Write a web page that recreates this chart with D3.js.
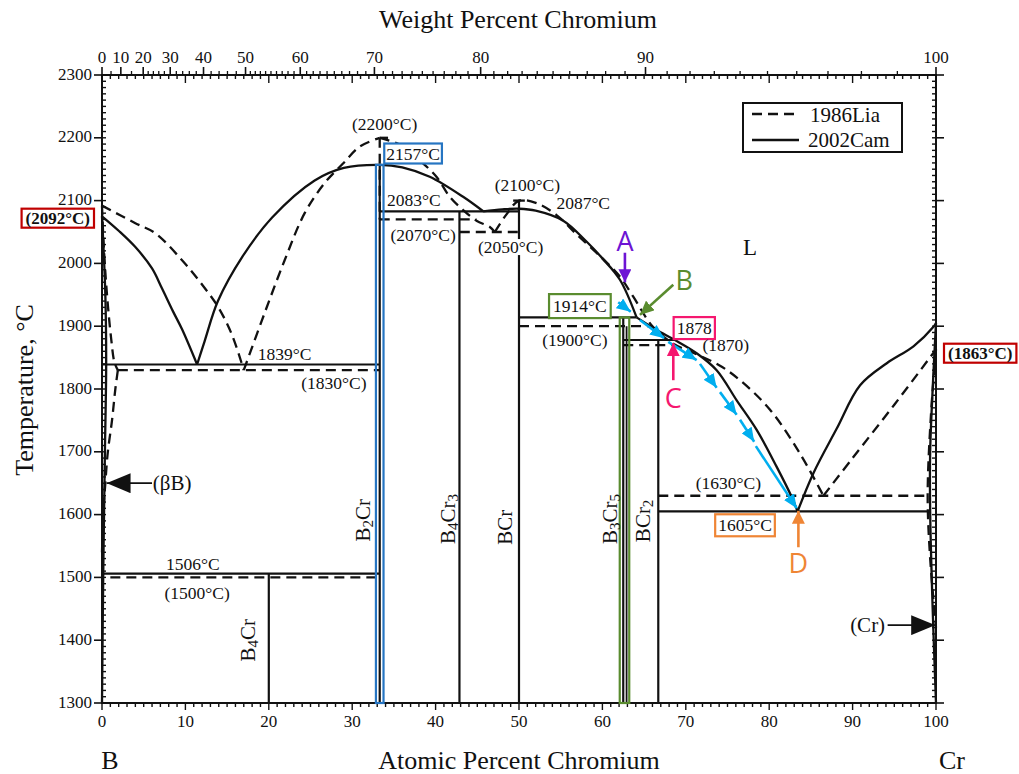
<!DOCTYPE html>
<html><head><meta charset="utf-8">
<script src="https://cdn.jsdelivr.net/npm/d3@7"></script>
<style>
body{margin:0;background:#fff}
svg{display:block}
text{font-family:"Liberation Serif","Times New Roman",serif;fill:#111}
.sans{font-family:"Open Sans","Noto Sans",sans-serif}
</style>
</head><body><svg id="chart" width="1019" height="774"></svg>
<script>
// ---- axis ticks ----
const tempTicks = [1300,1400,1500,1600,1700,1800,1900,2000,2100,2200,2300];
const atTicks = [0,10,20,30,40,50,60,70,80,90,100];
const wtTicks = [0,10,20,30,40,50,60,70,80,90,100];

// ---- 2002Cam (solid) boundaries: [at.% Cr, °C] ----
const camLiqB     = [[0,2075],[2,2052],[4,2026],[6,1992],[7.2,1960],[8.5,1924],[9.6,1895],[11.4,1839]];
const camLiqB2Cr  = [[11.4,1839],[12.3,1876],[13.9,1940],[16.8,2010],[20.4,2073],[25.5,2132],[29,2152],[33.3,2157],[36,2153],[39.3,2138],[43.3,2106],[45.7,2083]];
const camLiqBCr   = [[45.7,2083],[48,2086],[50,2087],[52,2084],[55.3,2068],[58,2036],[60,2008],[62.1,1974],[64.1,1914]];
const camLiqBCr2  = [[64.1,1914],[66.5,1894],[68.7,1878],[71.3,1857],[73.7,1830],[76.1,1782],[78.5,1735],[80.9,1676],[82.7,1628],[83.4,1605]];
const camLiqCr    = [[83.4,1605],[85.3,1666],[88.1,1737],[90.9,1806],[94.1,1841],[97.3,1868],[99.7,1899],[100,1905]];
const camSolvB    = [[0,2075],[0.4,1950],[0.5,1839],[0.35,1700],[0.15,1506],[0,1300]];
const camSolvCr   = [[100,1905],[99.6,1800],[99.3,1700],[99.3,1605],[99.6,1450],[100,1300]];

// ---- 1986Lia (dashed) boundaries ----
const liaLiqB     = [[0,2092],[4,2064],[6.4,2048],[9.6,2005],[11.9,1968],[13.9,1931],[15.5,1889],[16.7,1843],[17,1830]];
const liaLiqB2Cr  = [[17,1830],[19.5,1921],[21.9,2005],[24.3,2080],[26.7,2128],[28.9,2159],[30.9,2186],[33.3,2200]];
const liaLiqB2CrR = [[33.3,2200],[35.7,2189],[38,2165],[40.1,2138],[41.7,2106],[43.3,2085],[44.9,2068],[46.5,2058],[47.1,2050]];
const liaLiqBCr   = [[47.1,2050],[48.5,2078],[50,2100],[52.1,2096],[54.5,2077],[57,2045],[60,2008],[62.1,1979],[63.7,1947],[66,1900],[68.5,1872],[71,1857],[74,1838],[76.5,1814],[80.1,1767],[83.7,1697],[86.5,1630]];
const liaLiqCr    = [[86.5,1630],[90,1690],[95,1775],[100,1863]];
const liaSolvB    = [[0,2092],[0.2,2030],[0.6,1950],[1.1,1880],[1.5,1842],[1.9,1830]];
const liaSolvB2   = [[1.9,1830],[1.6,1800],[1.2,1750],[0.7,1700],[0.4,1650],[0.15,1600],[0,1540]];
const liaSolvCr   = [[100,1863],[99.4,1760],[99,1630],[99.3,1530],[100,1420]];

// ---- invariant isotherms ----
const camIsoT    = [1839, 1506, 2083, 1914, 1878, 1605];
const camIsoFrom = [0, 0, 33.3, 50, 62.5, 66.7];
const camIsoTo   = [33.3, 33.3, 50, 64.1, 68.7, 99.3];
const liaIsoT    = [1830, 1500, 2070, 2050, 1900, 1870, 1630];
const liaIsoFrom = [1.9, 1.0, 33.3, 42.9, 50, 62.5, 66.7];
const liaIsoTo   = [33.3, 32.9, 44.9, 50, 66, 68.5, 99];

// ---- intermediate compounds ----
const compoundNames = ["B4Cr","B2Cr","B4Cr3","BCr","B3Cr5","BCr2"];
const compoundAt    = [20, 33.3, 42.86, 50, 62.5, 66.7];
const compoundTop   = [1506, 2157, 2083, 2100, 1914, 1878];
const meltB = 2092, meltCr = 1863;
const liaMaxB2Cr = 2200, liaMaxBCr = 2100, camMaxBCr = 2087, liaPeritectic = 1870;

// ---- cooling path along the Cr-rich liquidus ----
const pathFrom = [[61.9,1938],[64.5,1910],[67.9,1875],[71.7,1840],[74.1,1795],[76.5,1751],[78.4,1709]];
const pathTo   = [[63.4,1923],[67.4,1881],[71.3,1846],[73.7,1802],[76.1,1759],[78.2,1716],[83.3,1610]];

const svg = d3.select("#chart");
const X = d3.scaleLinear().domain([0,100]).range([102,936]);
const Y = d3.scaleLinear().domain([1300,2300]).range([703,75]);
const curve = d3.line().x(d=>X(d[0])).y(d=>Y(d[1])).curve(d3.curveCatmullRom.alpha(0.5));
const wtToAt = w => w<=0 ? 0 : w>=100 ? 100 : (w/52.00)/((w/52.00)+(100-w)/10.81)*100;
const INK = "#111";

// arrow markers
const defs = svg.append("defs");
function marker(id, color, len, wid){
  defs.append("marker").attr("id",id).attr("markerUnits","userSpaceOnUse")
    .attr("viewBox",`0 0 ${len} ${wid}`).attr("refX",len).attr("refY",wid/2)
    .attr("markerWidth",len).attr("markerHeight",wid).attr("orient","auto")
    .append("path").attr("d",`M0,0L${len},${wid/2}L0,${wid}Z`).attr("fill",color);
}
const colA="#6d14d4", colB="#5a8c2f", colC="#f5176f", colD="#ef8535", colPath="#00aeef",
      colBlue="#2675c2", colRed="#c00000";
marker("mA",colA,13,13); marker("mB",colB,14,13); marker("mC",colC,13,13); marker("mD",colD,13,13);
marker("mP",colPath,14,12); marker("mK",INK,24,20);

// ---- frame and ticks ----
const ax = svg.append("g").attr("stroke",INK).attr("fill","none");
const x0=X(0), x1=X(100), yb=Y(1300), yt=Y(2300);
ax.append("rect").attr("x",x0).attr("y",yt).attr("width",x1-x0).attr("height",yb-yt).attr("stroke-width",2);
d3.range(1300,2301,10).forEach(t=>{
  const major = t%100===0;
  ax.append("line").attr("x1",x0).attr("x2",x0+4).attr("y1",Y(t)).attr("y2",Y(t)).attr("stroke-width",1.4);
  ax.append("line").attr("x1",x1-4).attr("x2",x1).attr("y1",Y(t)).attr("y2",Y(t)).attr("stroke-width",1.4);
  if(major){
    ax.append("line").attr("x1",x0-8).attr("x2",x0).attr("y1",Y(t)).attr("y2",Y(t)).attr("stroke-width",1.6);
    ax.append("line").attr("x1",x1).attr("x2",x1+8).attr("y1",Y(t)).attr("y2",Y(t)).attr("stroke-width",1.6);
  }
});
d3.range(0,101,1).forEach(a=>{
  const major = a%10===0;
  ax.append("line").attr("x1",X(a)).attr("x2",X(a)).attr("y1",yb).attr("y2",yb+(major?7:4)).attr("stroke-width",1.4);
  ax.append("line").attr("x1",X(a)).attr("x2",X(a)).attr("y1",yt).attr("y2",yt+(major?8:4)).attr("stroke-width",1.4);
});
d3.range(1,100).filter(w=>w%10!==0 && (w<20 ? w%5===0 : w<50 ? w%2===0 : true)).forEach(w=>{
  ax.append("line").attr("x1",X(wtToAt(w))).attr("x2",X(wtToAt(w))).attr("y1",yt-4).attr("y2",yt).attr("stroke-width",1.3);
});
wtTicks.forEach(w=>{
  ax.append("line").attr("x1",X(wtToAt(w))).attr("x2",X(wtToAt(w))).attr("y1",yt-8).attr("y2",yt).attr("stroke-width",1.6);
});

const lab = svg.append("g");
tempTicks.forEach(t=>lab.append("text").attr("x",x0-10).attr("y",Y(t)-1).attr("text-anchor","end")
  .attr("dominant-baseline","central").attr("font-size",17).text(t));
atTicks.forEach(a=>lab.append("text").attr("x",X(a)).attr("y",yb+18).attr("text-anchor","middle")
  .attr("dominant-baseline","central").attr("font-size",17).text(a));
wtTicks.forEach(w=>lab.append("text").attr("x",X(wtToAt(w))).attr("y",yt-18).attr("text-anchor","middle")
  .attr("dominant-baseline","central").attr("font-size",17).text(w));

lab.append("text").attr("x",518).attr("y",19).attr("text-anchor","middle").attr("dominant-baseline","central")
  .attr("font-size",26).text("Weight Percent Chromium");
lab.append("text").attr("x",519).attr("y",760).attr("text-anchor","middle").attr("dominant-baseline","central")
  .attr("font-size",26).text("Atomic Percent Chromium");
lab.append("text").attr("x",110).attr("y",760).attr("text-anchor","middle").attr("dominant-baseline","central")
  .attr("font-size",26).text("B");
lab.append("text").attr("x",952).attr("y",760).attr("text-anchor","middle").attr("dominant-baseline","central")
  .attr("font-size",26).text("Cr");
lab.append("text").attr("transform","translate(24,390) rotate(-90)").attr("text-anchor","middle")
  .attr("dominant-baseline","central").attr("font-size",26).text("Temperature, °C");

// ---- phase boundaries ----
const pg = svg.append("g").attr("fill","none").attr("stroke",INK);
[camLiqB,camLiqB2Cr,camLiqBCr,camLiqBCr2,camLiqCr,camSolvB,camSolvCr].forEach(p=>
  pg.append("path").attr("d",curve(p)).attr("stroke-width",2.3));
[liaLiqB,liaLiqB2Cr,liaLiqB2CrR,liaLiqBCr,liaLiqCr,liaSolvB,liaSolvB2,liaSolvCr].forEach(p=>
  pg.append("path").attr("d",curve(p)).attr("stroke-width",2.3).attr("stroke-dasharray","10,6"));
camIsoT.forEach((t,i)=>pg.append("line").attr("x1",X(camIsoFrom[i])).attr("x2",X(camIsoTo[i]))
  .attr("y1",Y(t)).attr("y2",Y(t)).attr("stroke-width",2.2));
liaIsoT.forEach((t,i)=>pg.append("line").attr("x1",X(liaIsoFrom[i])).attr("x2",X(liaIsoTo[i]))
  .attr("y1",Y(t)).attr("y2",Y(t)).attr("stroke-width",2.3).attr("stroke-dasharray","10,6"));
compoundAt.forEach((a,i)=>pg.append("line").attr("x1",X(a)).attr("x2",X(a))
  .attr("y1",Y(compoundTop[i])).attr("y2",yb).attr("stroke-width",2.2));
// 1986Lia B3Cr5 and the congruent maxima
pg.append("line").attr("x1",X(62.9)).attr("x2",X(62.9)).attr("y1",Y(1900)).attr("y2",yb).attr("stroke-width",1.8);
pg.append("line").attr("x1",X(33.3)).attr("x2",X(33.3)).attr("y1",Y(liaMaxB2Cr)).attr("y2",Y(2070))
  .attr("stroke-width",2.3).attr("stroke-dasharray","10,6");
pg.append("line").attr("x1",X(33.3)).attr("x2",X(34.3)).attr("y1",Y(liaMaxB2Cr)).attr("y2",Y(liaMaxB2Cr)).attr("stroke-width",2.3);
pg.append("line").attr("x1",X(49.3)).attr("x2",X(50.7)).attr("y1",Y(liaMaxBCr)).attr("y2",Y(liaMaxBCr)).attr("stroke-width",2.3);

// ---- highlight boxes ----
const hb = svg.append("g").attr("fill","none").attr("stroke-width",2.2);
hb.append("rect").attr("x",X(33.3)-3.8).attr("y",Y(2157)).attr("width",7.6).attr("height",yb-Y(2157)).attr("stroke",colBlue);
hb.append("rect").attr("x",X(62.5)-3.5).attr("y",Y(1914)).attr("width",9.5).attr("height",yb-Y(1914)).attr("stroke",colB);

// ---- text annotations ----
const ann = svg.append("g");
function note(str, a, t, opt={}){
  const g = ann.append("g");
  const tx = g.append("text").attr("x",X(a)).attr("y",Y(t)).attr("text-anchor","middle")
    .attr("dominant-baseline","central").attr("font-size",opt.size||17.5)
    .attr("font-weight",opt.bold?"bold":null).text(str);
  if(opt.box || opt.bg){
    const b = tx.node().getBBox(), px = opt.padX ?? 3, py = opt.padY ?? 1;
    g.insert("rect","text").attr("x",b.x-px).attr("y",b.y-py).attr("width",b.width+2*px).attr("height",b.height+2*py)
      .attr("fill","#fff").attr("stroke",opt.box||"none").attr("stroke-width",2.2);
  }
  return tx;
}
note(`${camIsoT[0]}°C`, 21.9, 1856);
note(`(${liaIsoT[0]}°C)`, 27.8, 1810);
note(`${camIsoT[1]}°C`, 10.9, 1522);
note(`(${liaIsoT[1]}°C)`, 11.4, 1475);
note(`(${liaMaxB2Cr}°C)`, 33.9, 2222);
note(`${compoundTop[1]}°C`, 37.3, 2175, {box:colBlue, padX:2, padY:0});
note(`${camIsoT[2]}°C`, 37.4, 2101);
note(`(${liaIsoT[2]}°C)`, 38.5, 2045);
note(`(${liaMaxBCr}°C)`, 51, 2125);
note(`${camMaxBCr}°C`, 57.7, 2096);
note(`(${liaIsoT[3]}°C)`, 49, 2026, {bg:true, padX:1, padY:-2});
note(`${camIsoT[3]}°C`, 57.3, 1932, {box:colB, padX:4, padY:2});
note(`(${liaIsoT[4]}°C)`, 56.7, 1878);
note(`${camIsoT[4]}`, 71, 1897, {box:colC, padX:3, padY:1});
note(`(${liaPeritectic})`, 74.8, 1870);
note(`(${liaIsoT[6]}°C)`, 75.1, 1650);
note(`${camIsoT[5]}°C`, 77.1, 1583, {box:colD, padX:3, padY:1});
note(`(${meltB}°C)`, -5.3, 2072, {bold:true, box:colRed, size:17, padX:4, padY:0});
note(`(${meltCr}°C)`, 105.3, 1857, {bold:true, box:colRed, size:17, padX:4, padY:0});
note("L", 77.7, 2025, {size:23});

// compound names, rotated with subscripts
compoundNames.forEach((n,i)=>{
  const pos = [[17.5,1400],[31.3,1591],[41.5,1593],[48.3,1580],[60.9,1593],[64.9,1590]][i];
  const t = ann.append("text").attr("transform",`translate(${X(pos[0])},${Y(pos[1])}) rotate(-90)`)
    .attr("text-anchor","middle").attr("dominant-baseline","central").attr("font-size",21);
  let prevSub = false;
  n.match(/[A-Z][a-z]?|\d+/g).forEach(part=>{
    const sub = /\d/.test(part);
    const s = t.append("tspan").text(part);
    if(sub) s.attr("font-size",15).attr("dy",5);
    else if(prevSub) s.attr("dy",-5);
    prevSub = sub;
  });
});

// (βB) and (Cr) pointers
ann.append("line").attr("x1",X(6.0)).attr("x2",X(0.55)).attr("y1",Y(1650)).attr("y2",Y(1650))
  .attr("stroke",INK).attr("stroke-width",1.8).attr("marker-end","url(#mK)");
ann.append("text").attr("x",X(6.1)).attr("y",Y(1650)).attr("dominant-baseline","central").attr("font-size",21).text("(βB)");
ann.append("line").attr("x1",X(94.2)).attr("x2",X(99.9)).attr("y1",Y(1424)).attr("y2",Y(1424))
  .attr("stroke",INK).attr("stroke-width",1.8).attr("marker-end","url(#mK)");
ann.append("text").attr("x",X(93.9)).attr("y",Y(1424)).attr("text-anchor","end").attr("dominant-baseline","central").attr("font-size",21).text("(Cr)");

// cooling path arrows
pathFrom.forEach((p,i)=>ann.append("line").attr("x1",X(p[0])).attr("y1",Y(p[1]))
  .attr("x2",X(pathTo[i][0])).attr("y2",Y(pathTo[i][1])).attr("stroke",colPath).attr("stroke-width",2.6)
  .attr("marker-end","url(#mP)"));

// lettered pointers
function pointer(letter, col, mk, la, lt, fa, ft, ta, tt){
  ann.append("line").attr("x1",X(fa)).attr("y1",Y(ft)).attr("x2",X(ta)).attr("y2",Y(tt))
    .attr("stroke",col).attr("stroke-width",2.6).attr("marker-end",`url(#${mk})`);
  ann.append("text").attr("class","sans").attr("x",X(la)).attr("y",Y(lt)).attr("text-anchor","middle")
    .attr("dominant-baseline","central").attr("font-size",27).style("fill",col).text(letter);
}
pointer("A", colA, "mA", 62.7, 2036, 62.7, 2017, 62.7, 1970);
pointer("B", colB, "mB", 69.8, 1975, 68.5, 1966, 64.5, 1918);
pointer("C", colC, "mC", 68.5, 1787, 68.5, 1814, 68.5, 1873);
pointer("D", colD, "mD", 83.5, 1523, 83.5, 1548, 83.5, 1606);

// ---- legend ----
const lg = svg.append("g");
lg.append("rect").attr("x",743).attr("y",103).attr("width",159).attr("height",49).attr("fill","#fff").attr("stroke",INK).attr("stroke-width",2);
lg.append("line").attr("x1",752).attr("x2",799).attr("y1",114).attr("y2",114).attr("stroke",INK).attr("stroke-width",2.3).attr("stroke-dasharray","10,6");
lg.append("line").attr("x1",752).attr("x2",799).attr("y1",140).attr("y2",140).attr("stroke",INK).attr("stroke-width",2.3);
lg.append("text").attr("x",810).attr("y",115).attr("dominant-baseline","central").attr("font-size",21).text("1986Lia");
lg.append("text").attr("x",808).attr("y",140).attr("dominant-baseline","central").attr("font-size",21).text("2002Cam");
</script></body></html>
